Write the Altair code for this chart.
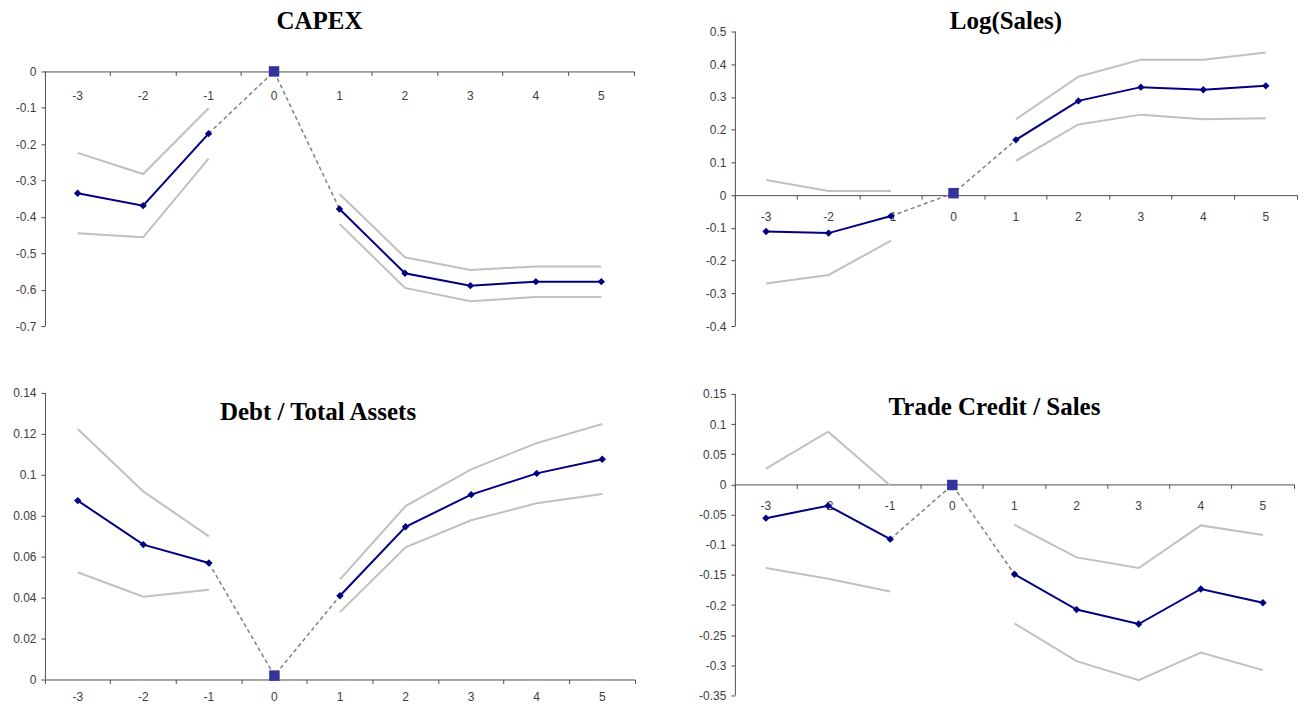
import altair as alt
import pandas as pd

# ---------------- data ----------------
periods = ["-3", "-2", "-1", "0", "1", "2", "3", "4", "5"]
pre = ["-3", "-2", "-1"]
post = ["1", "2", "3", "4", "5"]

# CAPEX
capex_est_pre = [-0.335, -0.369, -0.171]
capex_est_post = [-0.378, -0.555, -0.589, -0.578, -0.578]
capex_hi_pre = [-0.224, -0.282, -0.101]
capex_hi_post = [-0.337, -0.511, -0.546, -0.536, -0.536]
capex_lo_pre = [-0.445, -0.456, -0.240]
capex_lo_post = [-0.419, -0.595, -0.632, -0.620, -0.620]
capex_zero = 0.0
capex_ticks = [0, -0.1, -0.2, -0.3, -0.4, -0.5, -0.6, -0.7]

# Log(Sales)
sales_est_pre = [-0.111, -0.116, -0.064]
sales_est_post = [0.169, 0.288, 0.330, 0.322, 0.334]
sales_hi_pre = [0.046, 0.013, 0.013]
sales_hi_post = [0.232, 0.362, 0.414, 0.414, 0.436]
sales_lo_pre = [-0.270, -0.244, -0.139]
sales_lo_post = [0.105, 0.216, 0.246, 0.232, 0.235]
sales_zero = 0.006
sales_ticks = [0.5, 0.4, 0.3, 0.2, 0.1, 0, -0.1, -0.2, -0.3, -0.4]

# Debt / Total Assets
debt_est_pre = [0.0874, 0.0659, 0.0569]
debt_est_post = [0.0409, 0.0746, 0.0903, 0.1007, 0.1076]
debt_hi_pre = [0.1224, 0.0919, 0.0699]
debt_hi_post = [0.0489, 0.0847, 0.1027, 0.1155, 0.1248]
debt_lo_pre = [0.0524, 0.0404, 0.0438]
debt_lo_post = [0.0329, 0.0646, 0.0778, 0.0861, 0.0906]
debt_zero = 0.0019
debt_ticks = [0.14, 0.12, 0.1, 0.08, 0.06, 0.04, 0.02, 0]

# Trade Credit / Sales
trade_est_pre = [-0.056, -0.0353, -0.0908]
trade_est_post = [-0.149, -0.2076, -0.2315, -0.1734, -0.1962]
trade_hi_pre = [0.026, 0.0875, -0.002]
trade_hi_post = [-0.0668, -0.121, -0.1386, -0.068, -0.084]
trade_lo_pre = [-0.1386, -0.1565, -0.1777]
trade_lo_post = [-0.2304, -0.293, -0.3245, -0.279, -0.308]
trade_zero = -0.001
trade_ticks = [0.15, 0.1, 0.05, 0, -0.05, -0.1, -0.15, -0.2, -0.25, -0.3, -0.35]

NAVY = "#000080"
BAND = "#C0C0C0"
SQUARE = "#333399"
DASH = "#808080"
AXIS = "#4D4D4D"


def frame(pairs):
    rows = []
    for seg, ts, vals in pairs:
        for t, v in zip(ts, vals):
            rows.append({"t": t, "v": v, "seg": seg})
    return pd.DataFrame(rows)


def panel(title, est_pre, est_post, hi_pre, hi_post, lo_pre, lo_post, zero,
          ticks, w, h, toff, tdx, lpad, top_space=0):
    est = frame([("pre", pre, est_pre), ("post", post, est_post)])
    bands = frame([("hi_pre", pre, hi_pre), ("hi_post", post, hi_post),
                   ("lo_pre", pre, lo_pre), ("lo_post", post, lo_post)])
    dash = pd.DataFrame({"t": ["-1", "0", "1"],
                         "v": [est_pre[-1], zero, est_post[0]]})
    sq = pd.DataFrame({"t": ["0"], "v": [zero]})

    dmin, dmax = min(ticks), max(ticks)
    # empty space above the top tick (pixels), expressed in data units
    smax = dmax + (dmax - dmin) * top_space / (h - top_space)
    off = -h * (0 - dmin) / (smax - dmin)
    yscale = alt.Scale(domain=[dmin, smax], nice=False, zero=False)

    x = alt.X("t:O", sort=periods,
              scale=alt.Scale(type="band", domain=periods,
                              paddingInner=0, paddingOuter=0),
              axis=alt.Axis(title=None, orient="bottom", offset=off,
                            bandPosition=1, tickExtra=True, labelAngle=0,
                            labelPadding=lpad))
    y = alt.Y("v:Q", scale=yscale,
              axis=alt.Axis(title=None, values=ticks, labelPadding=5,
                            domain=False, labelOverlap=False,
                            labelExpr="replace(format(datum.value, '~g'), '\u2212', '-')"))

    yline = alt.Chart(pd.DataFrame({"v": [dmax], "b": [dmin]})).mark_rule(
        color=AXIS, strokeWidth=1).encode(
        x=alt.value(0.5), y=y, y2="b:Q")
    band_l = alt.Chart(bands).mark_line(color=BAND, strokeWidth=2).encode(
        x=x, y=y, detail="seg:N")
    dash_l = alt.Chart(dash).mark_line(color=DASH, strokeWidth=1.5,
                                       strokeDash=[4, 3]).encode(x=x, y=y)
    est_l = alt.Chart(est).mark_line(color=NAVY, strokeWidth=2).encode(
        x=x, y=y, detail="seg:N")
    est_p = alt.Chart(est).mark_point(shape="diamond", filled=True, size=55,
                                      color=NAVY, opacity=1).encode(x=x, y=y)
    sq_p = alt.Chart(sq).mark_point(shape="square", filled=True, size=110,
                                    color=SQUARE, opacity=1).encode(x=x, y=y)

    return alt.layer(band_l, dash_l, est_l, est_p, sq_p, yline).properties(
        width=w, height=h,
        title=alt.Title(text=title, frame="group", anchor="middle",
                        offset=toff, baseline="alphabetic", dx=tdx,
                        font="Liberation Serif", fontSize=25,
                        fontWeight="bold", color="black"))


capex = panel("CAPEX", capex_est_pre, capex_est_post, capex_hi_pre,
              capex_hi_post, capex_lo_pre, capex_lo_post, capex_zero,
              capex_ticks, 590, 295, -22, -20, 15, top_space=40)
sales = panel("Log(Sales)", sales_est_pre, sales_est_post, sales_hi_pre,
              sales_hi_post, sales_lo_pre, sales_lo_post, sales_zero,
              sales_ticks, 563, 295, -28, -10, 12)
debt = panel("Debt / Total Assets", debt_est_pre, debt_est_post, debt_hi_pre,
             debt_hi_post, debt_lo_pre, debt_lo_post, debt_zero,
             debt_ticks, 591, 287, -58, -22, 8)
trade = panel("Trade Credit / Sales", trade_est_pre, trade_est_post,
              trade_hi_pre, trade_hi_post, trade_lo_pre, trade_lo_post,
              trade_zero, trade_ticks, 560, 302, -52, -20, 12)

left = alt.vconcat(capex, debt, spacing=55)
right = alt.vconcat(sales, trade, spacing=56)

chart = alt.hconcat(left, right, spacing=62).properties(
    padding={"left": 4, "top": 0, "right": 0, "bottom": 0}
).configure_view(stroke=None).configure_axis(
    grid=False,
    labelFont="Liberation Sans",
    labelFontSize=12,
    labelColor="#404040",
    domainColor=AXIS,
    tickColor=AXIS,
    tickSize=4,
    domainWidth=1,
    tickWidth=1,
)

chart.save("out.html", embed_options={"renderer": "svg", "actions": False})
